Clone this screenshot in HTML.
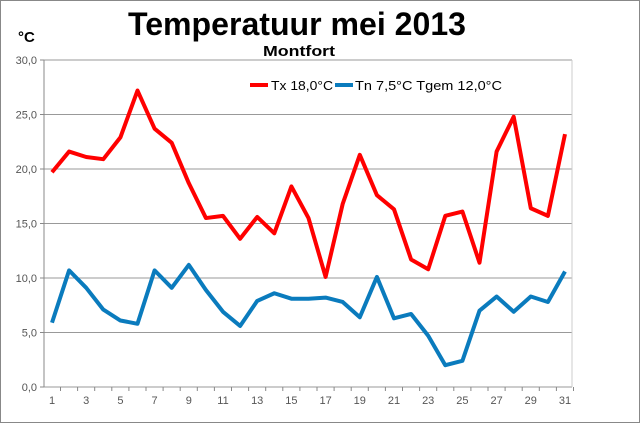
<!DOCTYPE html>
<html><head><meta charset="utf-8"><style>
html,body{margin:0;padding:0;background:#fff}
svg{display:block}
text{font-family:"Liberation Sans",Arial,sans-serif}
</style></head><body>
<svg id="s" width="640" height="423" viewBox="0 0 640 423">
<rect x="0.5" y="0.5" width="639" height="422" fill="#fff" stroke="#888"/>
<text x="128" y="35" font-size="32" font-weight="bold" textLength="338" lengthAdjust="spacingAndGlyphs">Temperatuur mei 2013</text>
<text x="263" y="56" font-size="15" font-weight="bold" textLength="72" lengthAdjust="spacingAndGlyphs">Montfort</text>
<text x="18" y="42" font-size="15" font-weight="bold">°C</text>
<g id="grid"></g>
<line x1="250" y1="85" x2="268" y2="85" stroke="#f00" stroke-width="4"/>
<text x="271" y="90" font-size="13" fill="#000" textLength="62" lengthAdjust="spacingAndGlyphs">Tx  18,0°C</text>
<line x1="335" y1="85" x2="353" y2="85" stroke="#0a7bbd" stroke-width="4"/>
<text x="355" y="90" font-size="13" fill="#000" textLength="147" lengthAdjust="spacingAndGlyphs">Tn  7,5°C  Tgem  12,0°C</text>
<polyline id="tx" fill="none" stroke="#f00" stroke-width="4" stroke-linejoin="round"/>
<polyline id="tn" fill="none" stroke="#0a7bbd" stroke-width="4" stroke-linejoin="round"/>
</svg>
<script>
var tx=[19.7,21.6,21.1,20.9,22.9,27.2,23.7,22.4,18.7,15.5,15.7,13.6,15.6,14.1,18.4,15.5,10.1,16.8,21.3,17.6,16.3,11.7,10.8,15.7,16.1,11.4,21.6,24.8,16.4,15.7,23.2];
var tn=[5.9,10.7,9.1,7.1,6.1,5.8,10.7,9.1,11.2,8.9,6.9,5.6,7.9,8.6,8.1,8.1,8.2,7.8,6.4,10.1,6.3,6.7,4.7,2.0,2.4,7.0,8.3,6.9,8.3,7.8,10.6];
function X(i){return 52+i*17.1} function Y(v){return 387-v*10.9}
document.getElementById('tx').setAttribute('points',tx.map(function(v,i){return X(i)+','+Y(v)}).join(' '));
document.getElementById('tn').setAttribute('points',tn.map(function(v,i){return X(i)+','+Y(v)}).join(' '));
var g='';
for(var k=0;k<=6;k++){var y=Y(k*5);g+='<line x1="44" x2="572" y1="'+y+'" y2="'+y+'" stroke="#999" stroke-width="1"/>';
g+='<line x1="40" x2="44" y1="'+y+'" y2="'+y+'" stroke="#888"/>';
g+='<text x="37" y="'+(y+4)+'" font-size="11" fill="#555" text-anchor="end">'+(k*5)+',0</text>';}
g+='<line x1="44" x2="44" y1="60" y2="387" stroke="#888"/><line x1="572" x2="572" y1="60" y2="387" stroke="#ccc"/>';
for(var i=0;i<31;i++){var x=X(i);g+='<line x1="'+(x+8.5)+'" x2="'+(x+8.5)+'" y1="387" y2="391" stroke="#888"/>';
if(i%2==0)g+='<text x="'+x+'" y="404" font-size="11" fill="#555" text-anchor="middle">'+(i+1)+'</text>';}
document.getElementById('grid').innerHTML=g;
</script>
</body></html>
